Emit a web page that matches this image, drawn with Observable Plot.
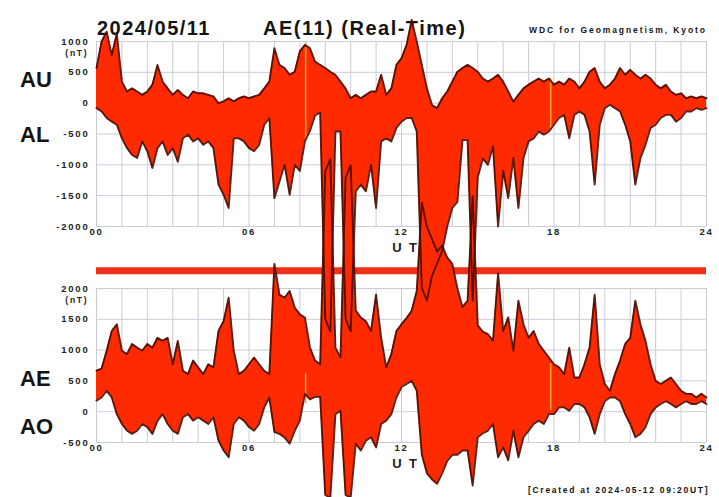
<!DOCTYPE html>
<html>
<head>
<meta charset="utf-8">
<script src="https://cdn.jsdelivr.net/npm/d3@7"></script>
<script src="https://cdn.jsdelivr.net/npm/@observablehq/plot@0.6"></script>
<style>
html,body{margin:0;padding:0;background:#fff;}
#wrap{position:relative;width:719px;height:497px;overflow:hidden;font-family:"Liberation Sans",Arial,sans-serif;}
#wrap svg{position:absolute;left:0;top:0;overflow:visible;}
#wrap svg.axes text{letter-spacing:1.8px;}
.lbl{position:absolute;font-weight:bold;color:#141414;white-space:nowrap;line-height:1;}
</style>
</head>
<body>
<div id="wrap">
  <div class="lbl" style="left:97px;top:18px;font-size:20px;letter-spacing:1.5px;">2024/05/11</div>
  <div class="lbl" style="left:263px;top:18px;font-size:20px;letter-spacing:1.5px;">AE(11) (Real-Time)</div>
  <div class="lbl" style="left:529px;top:26px;font-size:8.5px;letter-spacing:1.9px;">WDC for Geomagnetism, Kyoto</div>
  <div class="lbl" style="left:20px;top:69px;font-size:22px;">AU</div>
  <div class="lbl" style="left:20px;top:124px;font-size:22px;">AL</div>
  <div class="lbl" style="left:20px;top:368px;font-size:22px;">AE</div>
  <div class="lbl" style="left:20px;top:416px;font-size:22px;">AO</div>
  <div class="lbl" style="left:528px;top:486px;font-size:8.5px;letter-spacing:1.7px;">[Created at 2024-05-12 09:20UT]</div>
</div>
<script>
// ---- data (UT hours, nT), 12-minute samples ----
const sampleHours = d3.range(121).map(i => i / 5);

const AU = [
  570, 1000, 1160, 780, 1130, 350, 190, 240, 190, 135,
  190, 300, 620, 350, 240, 135, 215, 135, 80, 190,
  160, 160, 135, 110, 0, 30, 80, 30, 80, 110,
  80, 110, 135, 240, 350, 890, 620, 570, 460, 510,
  840, 945, 890, 675, 620, 570, 510, 460, 350, 240,
  80, 135, 80, 135, 190, 190, 460, 135, 240, 620,
  730, 945, 1350, 1000, 620, 240, -30, -80, 80, 190,
  350, 510, 570, 620, 570, 510, 400, 350, 400, 460,
  350, 190, 25, 135, 240, 300, 350, 400, 350, 400,
  300, 350, 300, 400, 350, 240, 350, 510, 570, 350,
  240, 300, 400, 570, 460, 540, 460, 400, 460, 400,
  300, 240, 300, 190, 135, 160, 80, 110, 80, 110,
  80
];
const AL = [
  -80, -135, -240, -300, -350, -570, -730, -840, -890, -620,
  -780, -1050, -730, -620, -840, -730, -950, -570, -510, -620,
  -570, -675, -620, -730, -1320, -1485, -1700, -570, -570, -620,
  -730, -780, -675, -350, -240, -1540, -1270, -1000, -1485, -1000,
  -1100, -620, -450, -200, -150, -3500, -3700, -460, -460, -3500,
  -3700, -1430, -1320, -1430, -1000, -1700, -620, -570, -620, -400,
  -300, -240, -240, -460, -3000, -3200, -2800, -2600, -2400, -2000,
  -1700, -1600, -600, -600, -3200, -1200, -900, -1000, -700, -2000,
  -1100, -1540, -890, -1700, -890, -620, -570, -460, -510, -460,
  -350, -240, -190, -570, -190, -135, -190, -460, -1320, -350,
  -80, -25, -80, -135, -350, -620, -1320, -890, -675, -400,
  -350, -240, -190, -190, -300, -240, -135, -135, -80, -110,
  -80
];
const AE = [
  665, 700, 990, 1310, 1420, 990, 935, 1100, 1040, 990,
  1100, 1040, 1200, 1150, 1200, 770, 1150, 665, 610, 830,
  720, 610, 770, 720, 1310, 1470, 1850, 990, 610, 665,
  770, 880, 770, 665, 610, 2400, 1900, 1850, 1960, 1690,
  1580, 1530, 1040, 830, 770, 3900, 4100, 1040, 880, 3800,
  4000, 1640, 1530, 1470, 1310, 1900, 1200, 720, 935, 1310,
  1420, 1520, 1640, 1960, 3400, 3000, 2800, 2600, 2700, 2500,
  2400, 2000, 1700, 1800, 3500, 1400, 1300, 1260, 1150, 2250,
  1310, 1530, 990, 1800, 1420, 1200, 1310, 1100, 990, 880,
  770, 720, 610, 1040, 555, 555, 770, 1040, 1900, 770,
  450, 340, 610, 830, 1100, 1200, 1800, 1420, 1150, 770,
  500, 450, 500, 555, 450, 340, 290, 290, 230, 290,
  230
];
const AO = [
  180, 230, 340, 230, -40, -200, -310, -360, -310, -200,
  -250, -360, -150, -40, -200, -310, -360, -90, -40, -145,
  -90, -145, -200, -90, -470, -630, -740, -200, -90, -145,
  -250, -310, -200, 70, 230, -330, -360, -420, -520, -310,
  -145, 290, 200, 240, 240, -1350, -1400, -40, 16, -1350,
  -1400, -520, -630, -470, -415, -580, -200, -145, -40, 230,
  400, 450, 500, 340, -700, -1000, -1100, -1170, -1000, -800,
  -700, -700, -630, -630, -1200, -415, -350, -310, -200, -740,
  -580, -790, -310, -740, -415, -310, -200, -145, -200, -40,
  -40, 70, 70, 16, 125, 125, 70, -90, -360, -40,
  170, 230, 230, 170, -40, -200, -415, -360, -250, -40,
  70, 125, 170, 125, 70, 125, 170, 125, 125, 170,
  125
];

const hourGrid = d3.range(0, 25);
const xTicks = [0, 6, 12, 18, 24];
const topLevels = [-2000, -1500, -1000, -500, 0, 500, 1000];
const bottomLevels = [-500, 0, 500, 1000, 1500, 2000];
const unitLabel = ["(nT)"];
const timeLabel = ["U T"];
const markerHours = [8.23, 17.87];
const markerTopHi = [980, 400];
const markerTopLo = [-620, -450];
const markerBotHi = [615, 780];
const markerBotLo = [130, 16];
const barLevel = [2290];

// ---- tables ----
const topRows = sampleHours.map((h, i) => ({h, hi: AU[i], lo: AL[i]}));
const botRows = sampleHours.map((h, i) => ({h, hi: AE[i], lo: AO[i]}));
const topMarkers = markerHours.map((h, i) => ({h, hi: markerTopHi[i], lo: markerTopLo[i]}));
const botMarkers = markerHours.map((h, i) => ({h, hi: markerBotHi[i], lo: markerBotLo[i]}));

const FILL = "#ff2a00";
const EDGE = "#4a0c02";
const GRID = "#c9ccd8";

const panels = {
  top: {domain: [-2000, 1000], marginTop: 41, marginBottom: 271, levels: topLevels, unitAt: 1000, utAt: -2000},
  bottom: {domain: [-500, 2000], marginTop: 288, marginBottom: 55, levels: bottomLevels, unitAt: 2000, utAt: -500}
};

function make(p, marks, axes) {
  const svg = Plot.plot({
    width: 719,
    height: 497,
    marginLeft: 96,
    marginRight: 13,
    marginTop: p.marginTop,
    marginBottom: p.marginBottom,
    x: axes
      ? {domain: [0, 24], ticks: xTicks, tickFormat: d => String(d).padStart(2, "0"), tickSize: 0, tickPadding: 2, label: null}
      : {domain: [0, 24], axis: null},
    y: axes
      ? {domain: p.domain, ticks: p.levels, tickFormat: d => String(d), tickSize: 0, tickPadding: 7, label: null}
      : {domain: p.domain, axis: null},
    style: {
      background: "transparent",
      overflow: "visible",
      fontFamily: "'Liberation Sans', Arial, sans-serif",
      fontSize: "9.5px",
      fontWeight: "bold",
      color: "#222"
    },
    marks
  });
  if (axes) svg.classList.add("axes");
  document.getElementById("wrap").appendChild(svg);
  return svg;
}

function gridMarks(p, extra) {
  return [
    Plot.ruleX(hourGrid, {x: d => d, stroke: GRID, strokeWidth: 1}),
    Plot.ruleY(p.levels, {y: d => d, stroke: GRID, strokeWidth: 1}),
    ...extra,
    Plot.text(unitLabel, {x: () => 0, y: () => p.unitAt, text: d => d, textAnchor: "end", dx: -8, dy: 12, fontSize: 8.5}),
    Plot.text(timeLabel, {x: () => 12, y: () => p.utAt, text: d => d, dx: 4, dy: 21, fontSize: 13})
  ];
}

// grids & axes
make(panels.top, gridMarks(panels.top, []), true);
make(panels.bottom, gridMarks(panels.bottom, [
  Plot.ruleY(barLevel, {y: d => d, stroke: "#ee3118", strokeWidth: 7})
]), true);

// fills
make(panels.top, [
  Plot.areaY(topRows, {x: "h", y1: "lo", y2: "hi", fill: FILL}),
  Plot.ruleX(topMarkers, {x: "h", y1: "lo", y2: "hi", stroke: "#ffa033", strokeWidth: 1.6})
], false);
make(panels.bottom, [
  Plot.areaY(botRows, {x: "h", y1: "lo", y2: "hi", fill: FILL}),
  Plot.ruleX(botMarkers, {x: "h", y1: "lo", y2: "hi", stroke: "#ffa033", strokeWidth: 1.6})
], false);

// dark edges
make(panels.top, [
  Plot.line(topRows, {x: "h", y: "hi", stroke: EDGE, strokeWidth: 1.9, strokeOpacity: 0.9}),
  Plot.line(topRows, {x: "h", y: "lo", stroke: EDGE, strokeWidth: 1.9, strokeOpacity: 0.9})
], false);
make(panels.bottom, [
  Plot.line(botRows, {x: "h", y: "hi", stroke: EDGE, strokeWidth: 1.9, strokeOpacity: 0.9}),
  Plot.line(botRows, {x: "h", y: "lo", stroke: EDGE, strokeWidth: 1.9, strokeOpacity: 0.9})
], false);
</script>
</body>
</html>
